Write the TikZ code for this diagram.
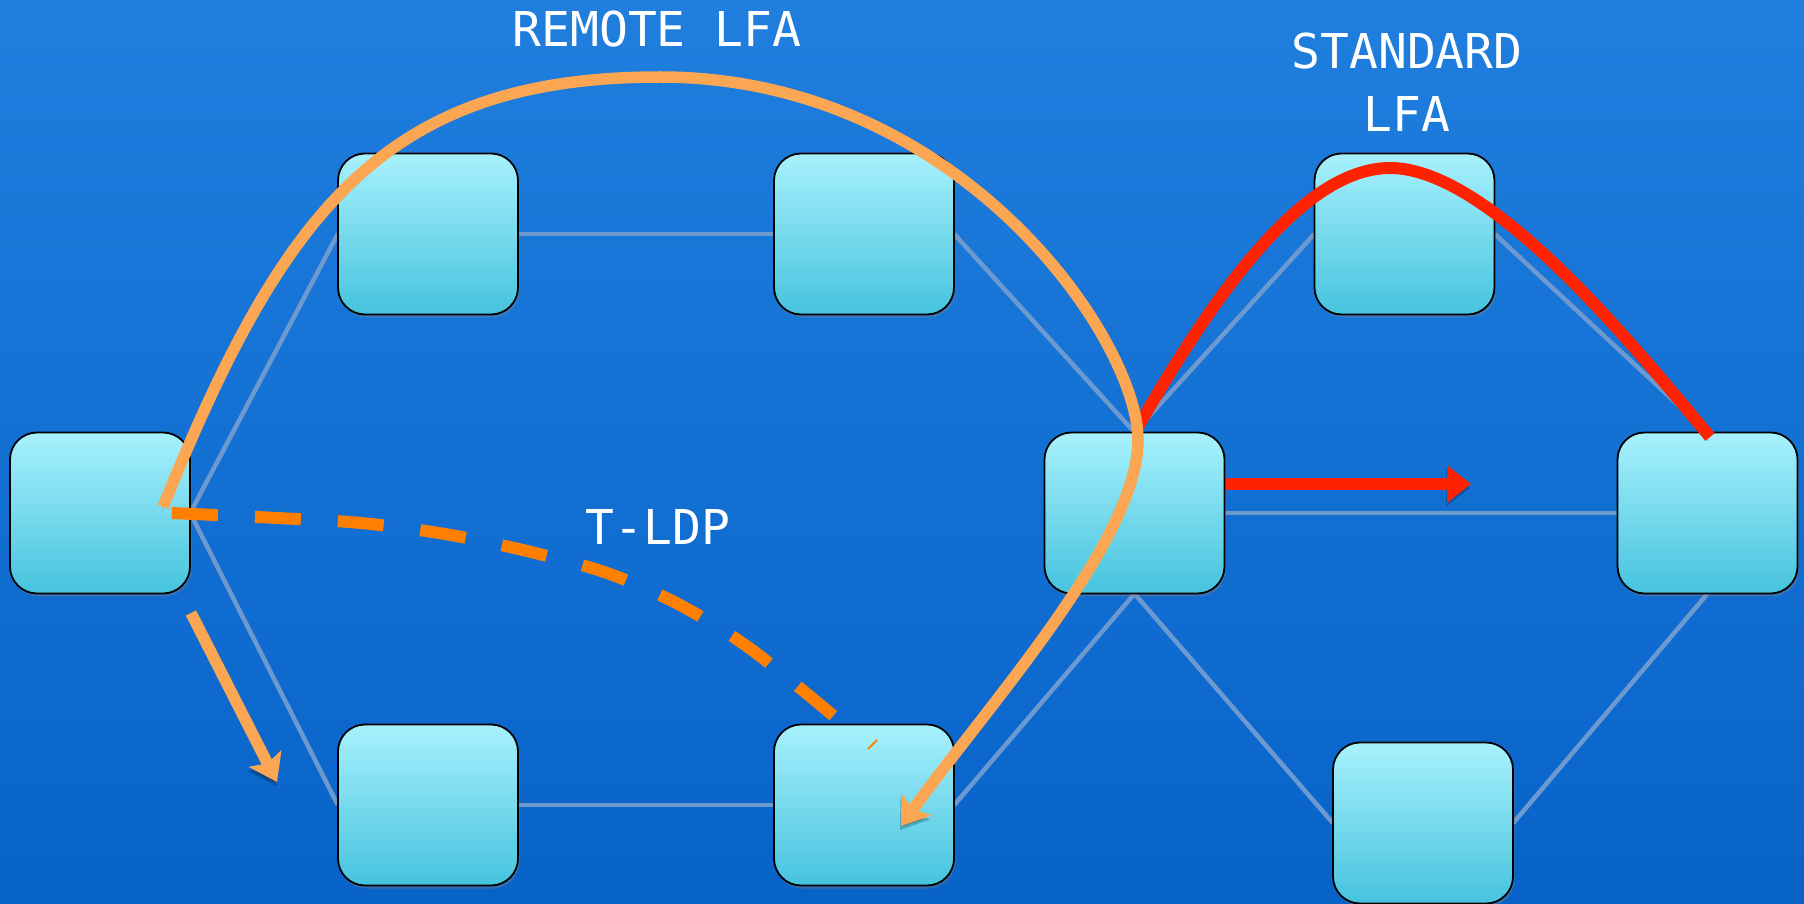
\documentclass[tikz,border=0pt]{standalone}
\usepackage{fontspec}
\setmonofont{DejaVu Sans Mono}
\usetikzlibrary{arrows.meta,shadows}

\definecolor{bgtop}{RGB}{31,126,222}
\definecolor{bgbot}{RGB}{8,99,201}
\definecolor{routertop}{RGB}{168,241,253}
\definecolor{routerbot}{RGB}{70,195,222}
\definecolor{linkblue}{RGB}{108,154,208}
\definecolor{lfalight}{RGB}{251,166,83}
\definecolor{ldporange}{RGB}{255,127,0}
\definecolor{lfared}{RGB}{255,34,0}

\begin{document}
\begin{tikzpicture}[x=1pt,y=-1pt,
  router/.style={draw=black, line width=1.8pt, rounded corners=27pt,
    minimum width=180pt, minimum height=161pt, inner sep=0pt,
    top color=routertop, bottom color=routerbot,
    drop shadow={shadow xshift=1.5pt, shadow yshift=-3pt, opacity=0.35}},
  link/.style={draw=linkblue, line width=4.5pt},
  castshadow/.style={preaction={draw=black, opacity=0.22,
    transform canvas={xshift=-1pt, yshift=-4pt}}},
  dashshadow/.style={preaction={draw=black, opacity=0.22,
    dash pattern=on 46pt off 37pt, transform canvas={xshift=-1pt, yshift=-4pt}}},
  remotepath/.style={castshadow, draw=lfalight, line width=11.5pt,
    -{Stealth[length=26pt,width=36pt,inset=5pt]}},
  tldppath/.style={dashshadow, draw=ldporange, line width=12pt,
    dash pattern=on 46pt off 37pt},
  stdpath/.style={castshadow, draw=lfared, line width=12pt},
  stdarrow/.style={castshadow, draw=lfared, line width=12.5pt,
    -{Triangle[length=24pt,width=36pt]}},
  tag/.style={text=white, inner sep=0pt,
    font=\ttfamily\fontsize{48pt}{63.5pt}\selectfont}
]
% canvas
\useasboundingbox (0,0) rectangle (1804,904);
\shade[top color=bgtop, bottom color=bgbot] (0,0) rectangle (1804,904);

% router positions
\coordinate (pA) at (100,513);
\coordinate (pB) at (428,234);
\coordinate (pC) at (864,234);
\coordinate (pD) at (1134.5,513);
\coordinate (pE) at (1404.5,234);
\coordinate (pF) at (1707.5,513);
\coordinate (pG) at (428,805);
\coordinate (pH) at (864,805);
\coordinate (pI) at (1423,823);

% invisible anchors for the links
\foreach \r in {A,B,C,D,E,F,G,H,I}
  \node[minimum width=180pt, minimum height=161pt, inner sep=0pt] (\r) at (p\r) {};

% links
\path[link] (A.east) -- (B.west);
\path[link] (A.east) -- (G.west);
\path[link] (B.east) -- (C.west);
\path[link] (G.east) -- (H.west);
\path[link] (C.east) -- (D.north);
\path[link] (D.north) -- (E.west);
\path[link] (E.east) -- (F.north);
\path[link] (D.east) -- (F.west);
\path[link] (H.east) -- (D.south);
\path[link] (D.south) -- (I.west);
\path[link] (F.south) -- (I.east);

% routers drawn over the links
\foreach \r in {A,B,C,D,E,F,G,H,I}
  \node[router] (box\r) at (p\r) {};

% end points of the repair paths
\coordinate (tldp-start) at (172,513);
\coordinate (tldp-end) at (842,723);
\coordinate (remote-start) at (163,507);
\coordinate (remote-top) at (660,77);
\coordinate (remote-turn) at (1138,440);
\coordinate (remote-end) at (901,826);
\coordinate (std-start) at (1139,425);
\coordinate (std-top) at (1390,168);
\coordinate (std-end) at (1710,437);
\coordinate (hop-start) at (191,613);
\coordinate (hop-end) at (277,782);
\coordinate (std-arrow-start) at (1226,484);
\coordinate (std-arrow-end) at (1471,484);

% targeted LDP session
\draw[tldppath] plot[smooth, tension=0.55] coordinates {(tldp-start) (277,518) (361,523) (445,534) (527,551) (607,573) (680,605) (752,650) (tldp-end)};
\draw[draw=ldporange, line width=2pt] (868,749) -- (877,740);

% standard LFA
\draw[stdpath] (std-start) .. controls (1209,304) and (1300,168) .. (std-top)
  .. controls (1490,168) and (1633,345) .. (std-end);
\draw[stdarrow] (std-arrow-start) -- (std-arrow-end);

% remote LFA
\draw[remotepath] (remote-start) .. controls (283,210) and (385,77) .. (remote-top)
  .. controls (960,77) and (1138,340) .. (remote-turn)
  .. controls (1138,540) and (989,704) .. (remote-end);
\draw[remotepath] (hop-start) -- (hop-end);

% labels
\node[tag, anchor=base] (remote-tag) at (657,47) {REMOTE LFA};
\node[tag, anchor=base, align=center] (std-tag) at (1407,132) {STANDARD\\LFA};
\node[tag, anchor=base] (tldp-tag) at (658,544) {T-LDP};
\end{tikzpicture}
\end{document}
